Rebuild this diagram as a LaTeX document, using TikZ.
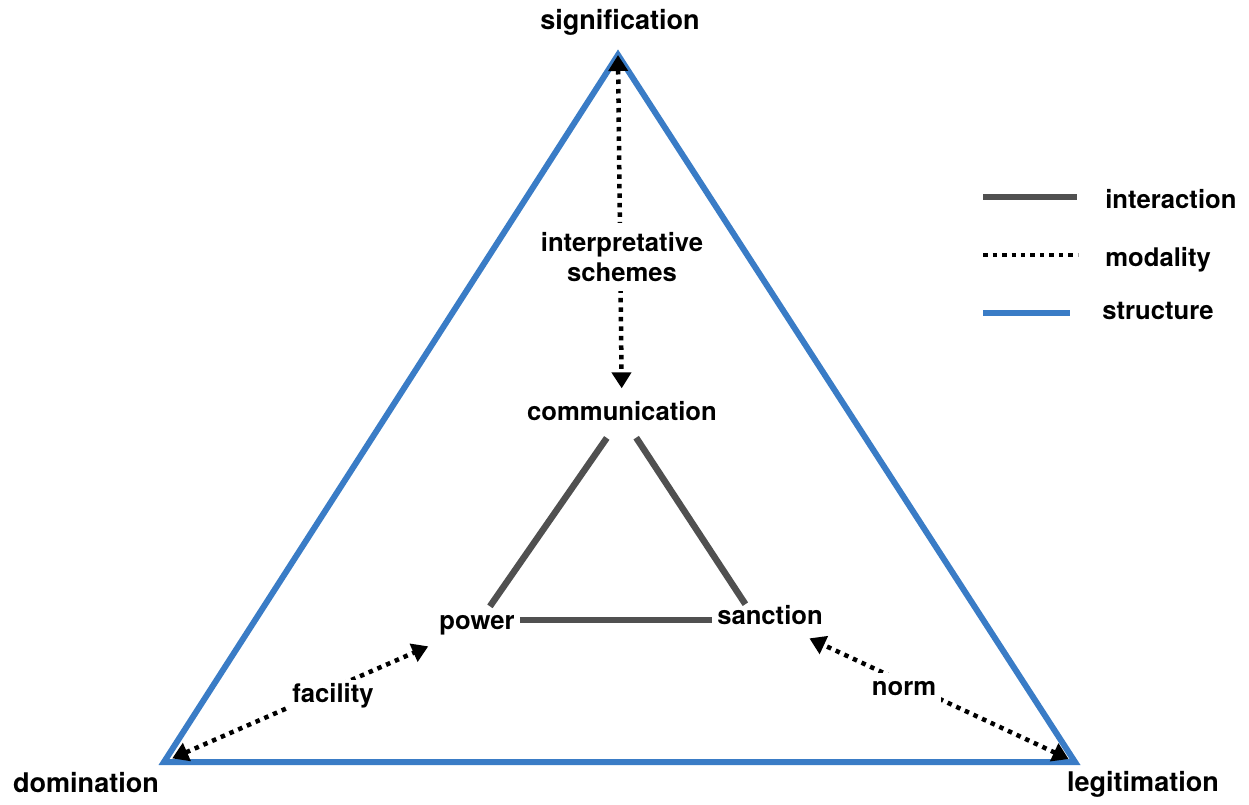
\documentclass[tikz,border=0pt]{standalone}
\usepackage{fontspec}
\setmainfont{TeX Gyre Heros}
\usetikzlibrary{arrows.meta}
\definecolor{structblue}{RGB}{58,124,198}
\definecolor{intergray}{RGB}{80,80,80}
\begin{document}
\begin{tikzpicture}[x=0.02cm,y=-0.02cm,font=\fontsize{14.6}{17}\selectfont\bfseries,
  >={Triangle[length=0.32cm,width=0.38cm]},
  lbl/.style={inner sep=0.1cm,text height=0.75em,text depth=0.25em},
  corner/.style={lbl,font=\fontsize{15.4}{18}\selectfont\bfseries},
  modlbl/.style={lbl,fill=white,inner xsep=0.1cm,inner ysep=0.18cm},
  structline/.style={draw=structblue,line width=0.12cm},
  interline/.style={draw=intergray,line width=0.13cm},
  modline/.style={draw=black,line width=0.09cm,dash pattern=on 0.09cm off 0.1cm}]
\path[use as bounding box](0,0)rectangle(1249,805);
\coordinate (S) at (618,55);
\coordinate (D) at (164,762);
\coordinate (L) at (1075,762);
\node[corner] (sig) at (620,25) {signification};
\node[corner] (dom) at (86,788) {domination};
\node[corner] (leg) at (1143,787) {legitimation};
\node[lbl] (comm) at (622,416) {communication};
\node[lbl] (power) at (477,625) {power};
\node[lbl] (sanction) at (770,620) {sanction};
\draw[structline](S)--(D)--(L)--cycle;
\draw[interline,shorten <=0.19cm,shorten >=0.11cm](comm)--(power);
\draw[interline,shorten <=0.18cm,shorten >=0.04cm](comm)--(sanction.149);
\draw[interline](sanction.west -| power.east)--(sanction.west);
\draw[modline,<->,shorten >=0.27cm](S)--(comm);
\draw[modline,<->,shorten <=0.18cm,shorten >=0.36cm](D)--(power);
\draw[modline,<->,shorten <=0.14cm,shorten >=0.2cm](L)--(sanction);
\node[modlbl,align=center,text height=,text depth=] (interp) at (622,257) {interpretative\\schemes};
\node[modlbl] (fac) at (333,698) {facility};
\node[modlbl] (norm) at (904,691) {norm};
\draw[interline](983,197)--(1077,197);
\draw[modline](983,255)--(1078,255);
\draw[structline](983,313)--(1070,313);
\node[lbl,anchor=west] (linter) at (1100,204) {interaction};
\node[lbl,anchor=west] (lmodal) at (1100,262) {modality};
\node[lbl,anchor=west] (lstruct) at (1097,315) {structure};
\end{tikzpicture}
\end{document}
